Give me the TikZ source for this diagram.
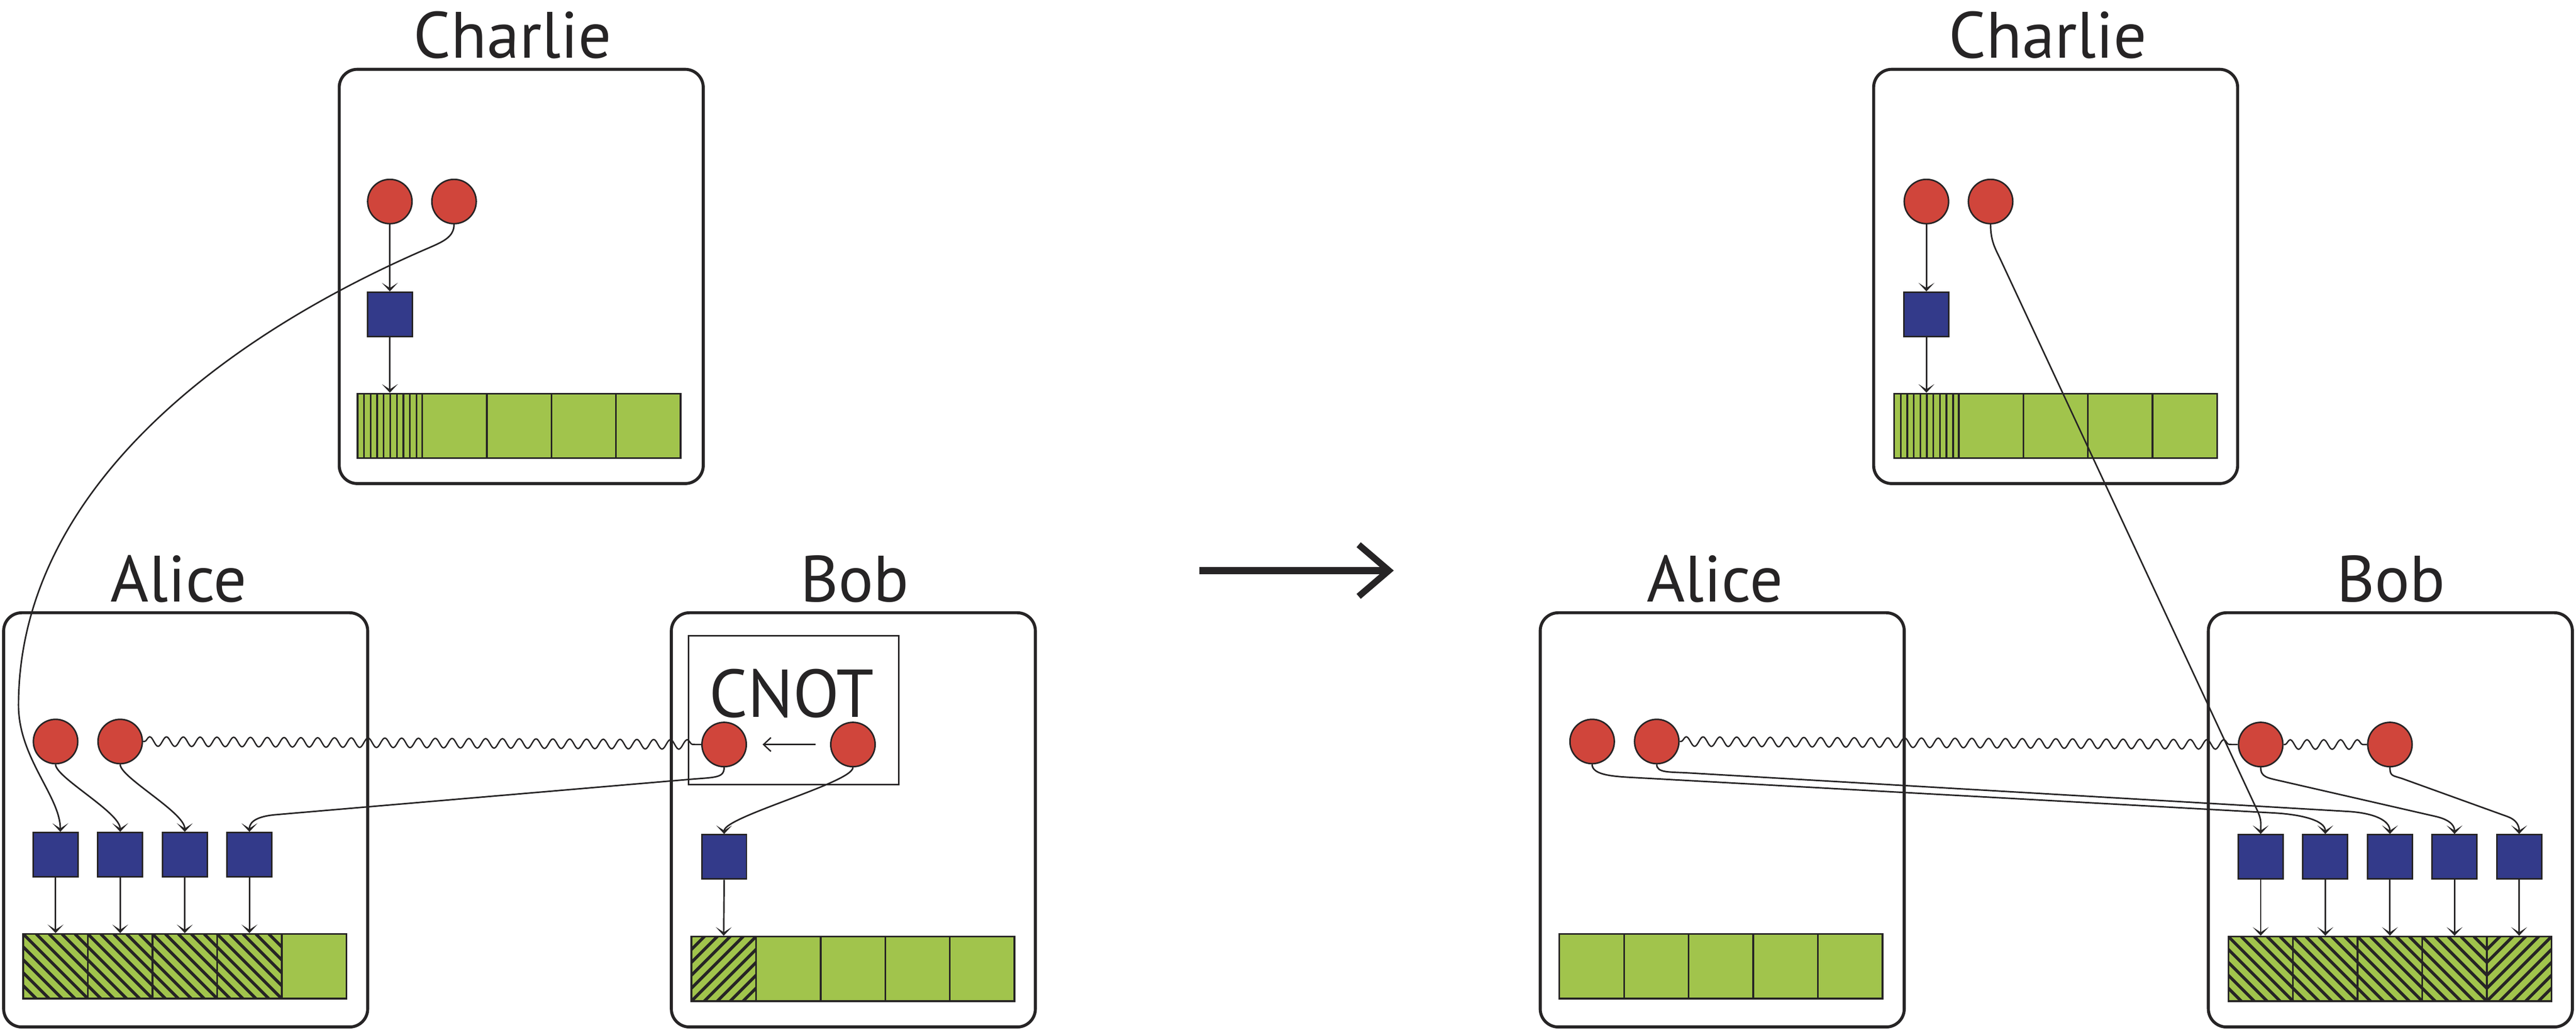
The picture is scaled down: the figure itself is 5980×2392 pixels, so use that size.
\documentclass[tikz,border=0pt]{standalone}
\usepackage{fontspec}
\setmainfont{PT Sans}
\usetikzlibrary{arrows.meta,decorations.pathmorphing,calc}
\definecolor{dk}{RGB}{38,36,37}
\definecolor{qred}{RGB}{208,69,59}
\definecolor{qblue}{RGB}{51,58,138}
\definecolor{mgreen}{RGB}{161,196,76}
\tikzset{
  panel/.style={draw=dk,line width=7pt,rounded corners=42pt,minimum width=845pt,minimum height=962pt,inner sep=0pt},
  who/.style={anchor=base,inner sep=0pt,text=dk,font=\fontsize{152}{160}\selectfont},
  qubit/.style={circle,draw=dk,fill=qred,line width=3.5pt,minimum size=103pt,inner sep=0pt},
  gate/.style={rectangle,draw=dk,fill=qblue,line width=3.5pt,minimum width=104pt,minimum height=103pt,inner sep=0pt},
  cell/.style={rectangle,draw=dk,fill=mgreen,line width=4pt,minimum width=150pt,minimum height=150pt,inner sep=0pt},
  vstripes/.style={path picture={\foreach \k in {1,...,9}{\draw[dk,line width=4pt]([xshift=\k*15.2pt]path picture bounding box.north west)--([xshift=\k*15.2pt]path picture bounding box.south west);}}},
  hatchnw/.style={path picture={\foreach \k in {-6,...,6}{\draw[dk,line width=7pt]([xshift=\k*30pt]path picture bounding box.north west)--++(190pt,-190pt);}}},
  hatchne/.style={path picture={\foreach \k in {-6,...,6}{\draw[dk,line width=7pt]([xshift=\k*30pt]path picture bounding box.south west)--++(190pt,190pt);}}},
  conn/.style={draw=dk,line width=3.5pt,-{Stealth[length=20pt,width=37pt,inset=12pt]}},
  wave/.style={draw=dk,line width=3.2pt,decorate,decoration={snake,segment length=39pt,amplitude=11pt,pre length=3pt,post length=3pt}},
  cnotarrow/.style={draw=dk,line width=3.2pt,-{Straight Barb[length=17pt,width=32pt]}},
  bigline/.style={draw=dk,line width=16pt},
}
\begin{document}
\begin{tikzpicture}[x=1pt,y=-1pt]
\useasboundingbox (0,0) rectangle (5980,2392);
% ---------------- left half ----------------
\node[panel] (LCbox) at (1210,642) {};
\node[who] (LCname) at (1190,134) {Charlie};
\node[qubit] (LCq1) at (905,468) {};
\node[qubit] (LCq2) at (1054,468) {};
\node[gate] (LCg) at (905,730) {};
\node[cell,vstripes] (LCc1) at (905,989) {};
\foreach \i in {2,...,5} \node[cell] (LCc\i) at ({905+150*(\i-1)},989) {};

\node[panel] (LAbox) at (431,1904) {};
\node[who] (LAname) at (415,1398) {Alice};
\node[qubit] (LAq1) at (129,1722) {};
\node[qubit] (LAq2) at (279,1722) {};
\foreach \i in {1,...,4} \node[gate] (LAg\i) at ({129+150*(\i-1)},1985) {};
\foreach \i in {1,...,4} \node[cell,hatchnw] (LAc\i) at ({129+150*(\i-1)},2244) {};
\node[cell] (LAc5) at (729,2244) {};

\node[panel] (LBbox) at (1981,1904) {};
\node[who] (LBname) at (1984,1398) {Bob};
\node[draw=dk,line width=3.5pt,minimum width=488pt,minimum height=346pt,inner sep=0pt] (cnot) at (1842,1649) {};
\node[who,font=\fontsize{157}{165}\selectfont] (cnotname) at (1837,1666) {CNOT};
\node[qubit] (LBq1) at (1681,1729) {};
\node[qubit] (LBq2) at (1980,1729) {};
\node[gate] (LBg) at (1681,1990) {};
\node[cell,hatchne] (LBc1) at (1680,2250) {};
\foreach \i in {2,...,5} \node[cell] (LBc\i) at ({1680+150*(\i-1)},2250) {};

% ---------------- middle arrow ----------------
\coordinate (mA) at (2784,1325);
\coordinate (mB) at (3224,1325);
\draw[bigline] (mA) -- (mB);
\draw[bigline,line width=15pt] ($(mB)+(-70,-60)$) -- (mB) -- ($(mB)+(-70,60)$);

% ---------------- right half ----------------
\node[panel] (RCbox) at (4772,642) {};
\node[who] (RCname) at (4754,134) {Charlie};
\node[qubit] (RCq1) at (4472,468) {};
\node[qubit] (RCq2) at (4621,468) {};
\node[gate] (RCg) at (4472,730) {};
\node[cell,vstripes] (RCc1) at (4472,989) {};
\foreach \i in {2,...,5} \node[cell] (RCc\i) at ({4472+150*(\i-1)},989) {};

\node[panel] (RAbox) at (3998,1904) {};
\node[who] (RAname) at (3981,1398) {Alice};
\node[qubit] (RAq1) at (3696,1722) {};
\node[qubit] (RAq2) at (3846,1722) {};
\foreach \i in {1,...,5} \node[cell] (RAc\i) at ({3695+150*(\i-1)},2244) {};

\node[panel] (RBbox) at (5549,1904) {};
\node[who] (RBname) at (5550,1398) {Bob};
\node[qubit] (RBq1) at (5248,1729) {};
\node[qubit] (RBq2) at (5548,1729) {};
\foreach \i in {1,...,5} \node[gate] (RBg\i) at ({5248+150*(\i-1)},1990) {};
\foreach \i in {1,...,4} \node[cell,hatchnw] (RBc\i) at ({5248+150*(\i-1)},2250) {};
\node[cell,hatchne] (RBc5) at (5848,2250) {};

% ---------------- connectors, left ----------------
\draw[conn] (LCq1.south) -- (LCg.north);
\draw[conn] (LCg.south) -- (LCc1.north);
\coordinate (lk1) at (990,578);
\coordinate (lk2) at (43,1638);
\draw[conn] (LCq2.south) .. controls +(0,30) and +(37,-16) .. (lk1)
  .. controls +(-490,212) and +(0,-488) .. (lk2)
  .. controls +(0,122) and +(0,-82) .. ($(LAg1.north)+(11,0)$);
\draw[conn] (LAq1.south) .. controls +(0,30) and +(0,-45) .. (LAg2.north);
\draw[conn] (LAq2.south) .. controls +(0,30) and +(0,-45) .. (LAg3.north);
\coordinate (lbA) at (1600,1810);
\coordinate (lbB) at (640,1892);
\draw[conn] (LBq1.south) .. controls +(0,25) and ($(lbA)!-60pt!(lbB)$) .. (lbA) -- (lbB)
  .. controls ($(lbB)!-40pt!(lbA)$) and +(0,-25) .. (LAg4.north);
\draw[conn] (LBq2.south) .. controls +(0,35) and +(0,-40) .. (LBg.north);
\draw[conn] (LBg.south) -- (LBc1.north);
\foreach \i in {1,...,4} \draw[conn] (LAg\i.south) -- (LAc\i.north);
\draw[wave] (LAq2.east) -- (LBq1.west);
\draw[cnotarrow,shorten <=34pt,shorten >=36pt] (LBq2.west) -- (LBq1.east);

% ---------------- connectors, right ----------------
\draw[conn] (RCq1.south) -- (RCg.north);
\draw[conn] (RCg.south) -- (RCc1.north);
\coordinate (rkA) at (4645,605);
\coordinate (rkB) at (5240,1882);
\draw[conn] (RCq2.south) .. controls +(0,40) and ($(rkA)!-30pt!(rkB)$) .. (rkA) -- (rkB)
  .. controls ($(rkB)!-25pt!(rkA)$) and +(0,-25) .. (RBg1.north);
\coordinate (ra1A) at (3780,1805);
\coordinate (ra1B) at (5280,1888);
\draw[conn] (RAq1.south) .. controls +(0,22) and ($(ra1A)!-45pt!(ra1B)$) .. (ra1A) -- (ra1B)
  .. controls ($(ra1B)!-60pt!(ra1A)$) and +(0,-32) .. (RBg2.north);
\coordinate (ra2A) at (3920,1795);
\coordinate (ra2B) at (5450,1884.4);
\draw[conn] (RAq2.south) .. controls +(0,20) and ($(ra2A)!-45pt!(ra2B)$) .. (ra2A) -- (ra2B)
  .. controls ($(ra2B)!-60pt!(ra2A)$) and +(0,-32) .. (RBg3.north);
\coordinate (rb1A) at (5292,1813);
\coordinate (rb1B) at (5654,1896);
\draw[conn] (RBq1.south) .. controls +(0,22) and ($(rb1A)!-30pt!(rb1B)$) .. (rb1A) -- (rb1B)
  .. controls ($(rb1B)!-30pt!(rb1A)$) and +(0,-22) .. (RBg4.north);
\coordinate (rb2A) at (5579,1809);
\coordinate (rb2B) at (5820,1896);
\draw[conn] (RBq2.south) .. controls +(0,22) and ($(rb2A)!-25pt!(rb2B)$) .. (rb2A) -- (rb2B)
  .. controls ($(rb2B)!-25pt!(rb2A)$) and +(0,-18) .. (RBg5.north);
\foreach \i in {1,...,5} \draw[conn] (RBg\i.south) -- (RBc\i.north);
\draw[wave] (RAq2.east) -- (RBq1.west);
\draw[wave] (RBq1.east) -- (RBq2.west);
\end{tikzpicture}
\end{document}
